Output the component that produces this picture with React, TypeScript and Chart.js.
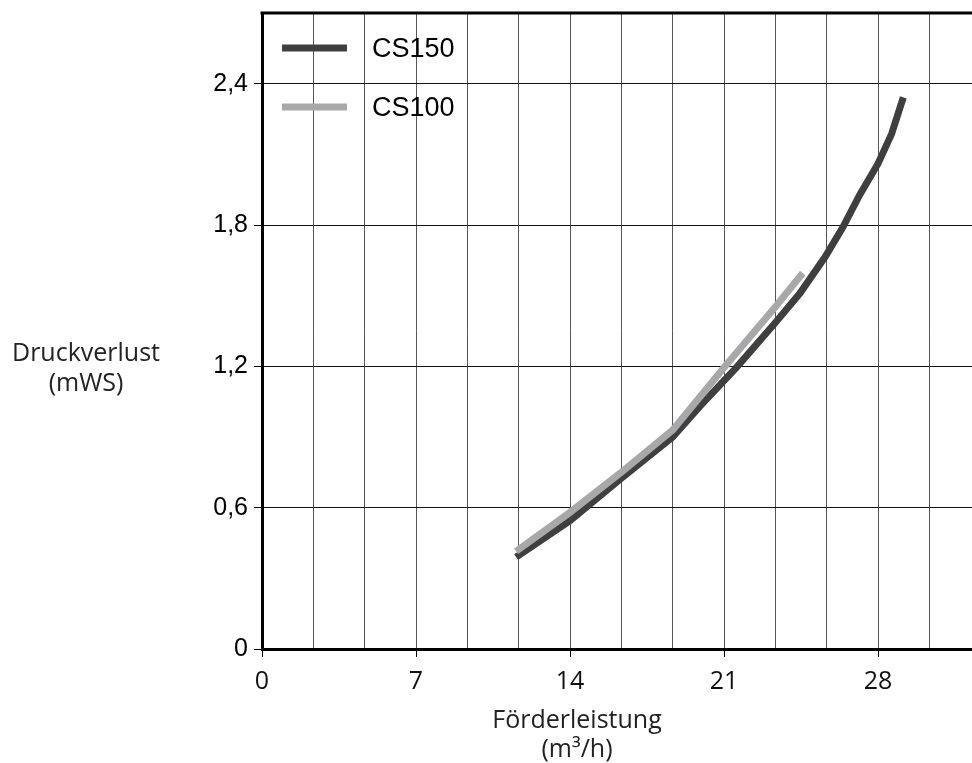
import React, { useEffect, useRef } from 'react';
import { Chart, registerables } from 'chart.js';

Chart.register(...registerables);

// ---- data ----
const cs150X = [11.55, 14, 16.33, 18.67, 19.9, 21.58, 23.36, 24.45, 25.6, 26.4, 27.18, 28, 28.62, 29.15];
const cs150Y = [0.39, 0.545, 0.725, 0.9, 1.03, 1.197, 1.388, 1.51, 1.665, 1.79, 1.93, 2.06, 2.187, 2.342];
const cs100X = [11.55, 14, 16.33, 18.67, 21.05, 23.33, 24.58];
const cs100Y = [0.415, 0.58, 0.75, 0.93, 1.2, 1.452, 1.596];

const xLabelValues = [0, 7, 14, 21, 28];
const xTickLabels = ['0', '7', '14', '21', '28'];
const xGridStep = 7 / 3;
const xMin = 0;
const xMax = 35;

const yTickValues = [0, 0.6, 1.2, 1.8, 2.4];
const yTickLabels = ['0', '0,6', '1,2', '1,8', '2,4'];
const yMin = 0;
const yMax = 2.7;

const seriesLabels = ['CS150', 'CS100'];
const seriesColors = ['#3f3f3f', '#a8a8aa'];

const yTitle = ['Druckverlust', '(mWS)'];
const xTitle = ['Förderleistung', '(m³/h)'];

const TITLE_FONT = '25px "Open Sans"';

const decorPlugin = {
  id: 'decor',
  afterDraw(chart: any) {
    const { ctx, chartArea } = chart;
    ctx.save();
    // top border
    ctx.strokeStyle = '#000';
    ctx.lineWidth = 3;
    ctx.beginPath();
    ctx.moveTo(chartArea.left - 1.5, chartArea.top);
    ctx.lineTo(chartArea.right, chartArea.top);
    ctx.stroke();

    // axis titles
    ctx.fillStyle = '#222';
    ctx.font = TITLE_FONT;
    ctx.textAlign = 'center';
    ctx.textBaseline = 'middle';
    ctx.fillText(yTitle[0], 86, 354);
    ctx.fillText(yTitle[1], 86, 384);
    ctx.fillText(xTitle[0], 577, 721);
    ctx.fillText(xTitle[1], 577, 750);

    // legend
    const ds = chart.data.datasets;
    const rowsY = [48, 107];
    ds.forEach((d: any, i: number) => {
      const y = rowsY[i];
      ctx.strokeStyle = d.borderColor;
      ctx.lineWidth = 7;
      ctx.beginPath();
      ctx.moveTo(282, y);
      ctx.lineTo(347, y);
      ctx.stroke();
      ctx.fillStyle = '#000';
      ctx.font = '27px "Liberation Sans"';
      ctx.textAlign = 'left';
      ctx.textBaseline = 'middle';
      ctx.fillText(d.label, 372, y + 2);
    });
    ctx.restore();
  },
};

export default function App() {
  const ref = useRef<HTMLCanvasElement | null>(null);

  useEffect(() => {
    if (!ref.current) return;
    const mk = (xs: number[], ys: number[]) => xs.map((x, i) => ({ x, y: ys[i] }));
    const chart = new Chart(ref.current, {
      type: 'line',
      data: {
        datasets: [
          {
            label: seriesLabels[0],
            data: mk(cs150X, cs150Y),
            borderColor: seriesColors[0],
            borderWidth: 7,
            pointRadius: 0,
            tension: 0,
            fill: false,
            order: 1,
          },
          {
            label: seriesLabels[1],
            data: mk(cs100X, cs100Y),
            borderColor: seriesColors[1],
            borderWidth: 7,
            pointRadius: 0,
            tension: 0,
            fill: false,
            order: 0,
          },
        ],
      },
      options: {
        responsive: false,
        animation: false,
        layout: { padding: { left: 0, right: 8, top: 13, bottom: 0 } },
        plugins: {
          legend: { display: false },
          tooltip: { enabled: false },
          title: { display: false },
        },
        scales: {
          x: {
            type: 'linear',
            min: xMin,
            max: xMax,
            afterBuildTicks: (scale: any) => {
              const t: any[] = [];
              for (let v = xMin; v <= xMax + 1e-6; v += xGridStep) t.push({ value: v });
              scale.ticks = t;
            },
            afterFit: (scale: any) => {
              scale.height = 114;
              scale.paddingLeft = 0;
              scale.paddingRight = 0;
            },
            border: { display: true, color: '#000', width: 3 },
            grid: {
              color: '#555',
              lineWidth: 1,
              tickLength: 8,
              tickColor: (c: any) => {
                const v = c.tick ? c.tick.value : NaN;
                return xLabelValues.some((lv) => Math.abs(lv - v) < 1e-6) ? '#000' : 'rgba(0,0,0,0)';
              },
            },
            ticks: {
              autoSkip: false,
              maxRotation: 0,
              minRotation: 0,
              padding: 10,
              color: '#111',
              font: { family: 'Open Sans', size: 25 },
              callback: (value: any) => {
                const idx = xLabelValues.findIndex((lv) => Math.abs(lv - Number(value)) < 1e-6);
                return idx >= 0 ? xTickLabels[idx] : '';
              },
            },
          },
          y: {
            type: 'linear',
            min: yMin,
            max: yMax,
            afterBuildTicks: (scale: any) => {
              scale.ticks = yTickValues.map((v) => ({ value: v }));
            },
            afterFit: (scale: any) => {
              scale.width = 262;
              scale.paddingTop = 0;
              scale.paddingBottom = 0;
            },
            border: { display: true, color: '#000', width: 3 },
            grid: {
              color: '#111',
              lineWidth: 1,
              tickLength: 8,
              tickColor: '#000',
            },
            ticks: {
              padding: 6,
              color: '#000',
              font: { family: 'Liberation Sans', size: 25 },
              callback: (value: any) => {
                const idx = yTickValues.findIndex((lv) => Math.abs(lv - Number(value)) < 1e-6);
                return idx >= 0 ? yTickLabels[idx] : '';
              },
            },
          },
        },
      },
      plugins: [decorPlugin],
    } as any);
    return () => chart.destroy();
  }, []);

  return (
    <div
      style={{
        position: 'absolute',
        left: 0,
        top: 0,
        width: 972,
        height: 763,
        overflow: 'hidden',
        background: '#fff',
      }}
    >
      <canvas ref={ref} width={1040} height={763} style={{ display: 'block', width: 1040, height: 763 }} />
    </div>
  );
}
